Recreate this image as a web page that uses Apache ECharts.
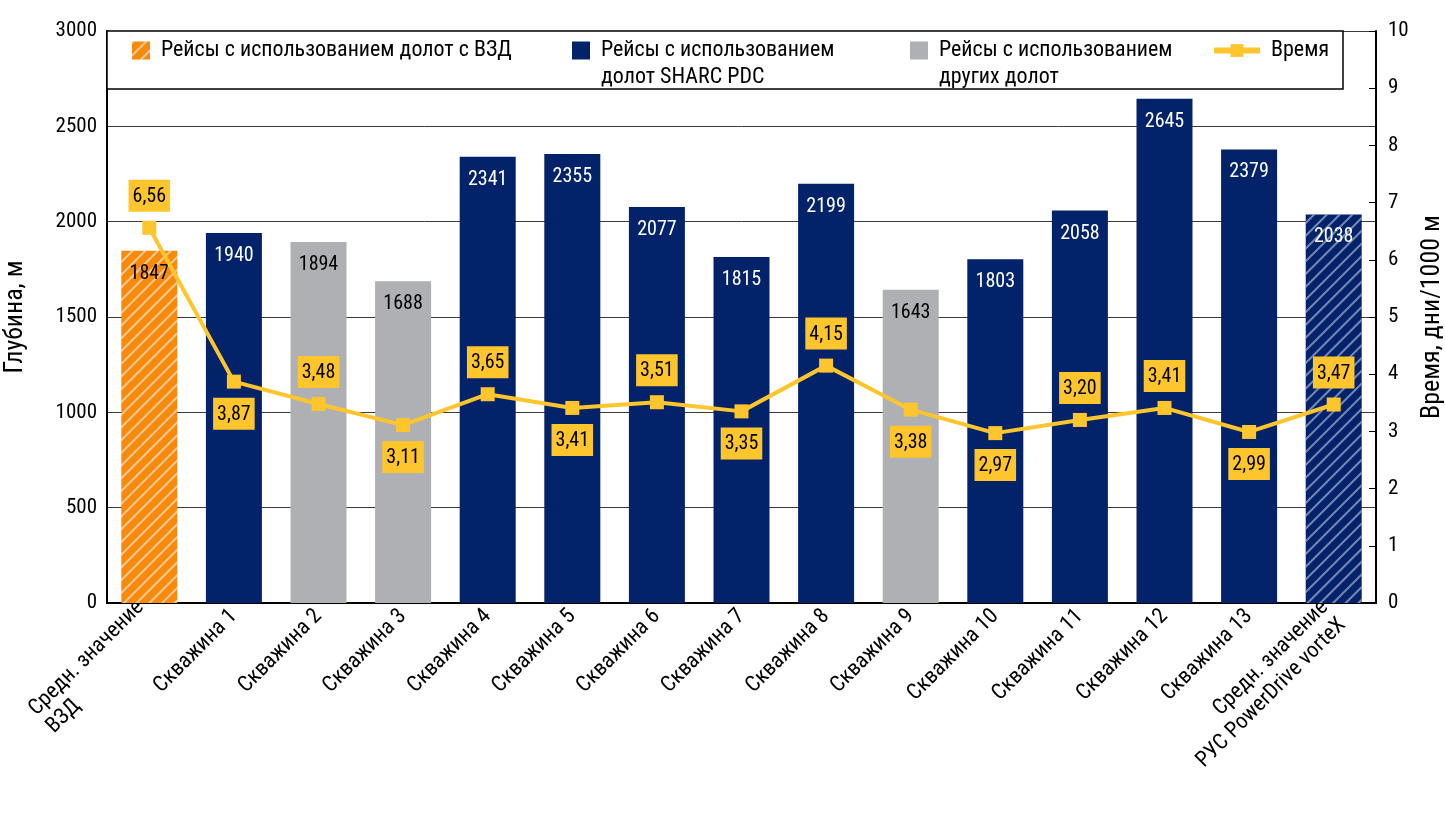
<!DOCTYPE html>
<html>
<head>
<meta charset="utf-8">
<script src="https://cdn.jsdelivr.net/npm/echarts@6/dist/echarts.min.js"></script>
<style>
  html, body { margin: 0; padding: 0; background: #fff; }
  #chart { width: 1445px; height: 813px; }
</style>
</head>
<body>
<div id="chart"></div>
<script>
// data
const categories = ['Средн. значение\nВЗД', 'Скважина 1', 'Скважина 2', 'Скважина 3', 'Скважина 4',
  'Скважина 5', 'Скважина 6', 'Скважина 7', 'Скважина 8', 'Скважина 9', 'Скважина 10',
  'Скважина 11', 'Скважина 12', 'Скважина 13', 'Средн. значение\nРУС PowerDrive vorteX'];
const depth = [1847, 1940, 1894, 1688, 2341, 2355, 2077, 1815, 2199, 1643, 1803, 2058, 2645, 2379, 2038];
// which bit group each bar belongs to
const bitKind = ['vzd', 'sharc', 'other', 'other', 'sharc', 'sharc', 'sharc', 'sharc', 'sharc',
  'other', 'sharc', 'sharc', 'sharc', 'sharc', 'sharc'];
const timeDays = [6.56, 3.87, 3.48, 3.11, 3.65, 3.41, 3.51, 3.35, 4.15, 3.38, 2.97, 3.20, 3.41, 2.99, 3.47];
// label placement for the time boxes
const timeLabelPos = ['top', 'bottom', 'top', 'bottom', 'top', 'bottom', 'top', 'bottom', 'top',
  'bottom', 'bottom', 'top', 'top', 'bottom', 'top'];

const nameVzd = 'Рейсы с использованием долот с ВЗД';
const nameSharc = 'Рейсы с использованием\nдолот SHARC PDC';
const nameOther = 'Рейсы с использованием\nдругих долот';
const nameTime = 'Время';

const FONT = "'Roboto Condensed', 'Liberation Sans Narrow', 'DejaVu Sans Condensed', Roboto, sans-serif";
const ORANGE = '#F7890C';
const NAVY = '#022369';
const GRAY = '#AEB0B3';
const YELLOW = '#FFC52C';

const hatchLight = {
  symbol: 'rect', dashArrayX: [1, 0], dashArrayY: [1.5, 7],
  rotation: -Math.PI / 4, color: 'rgba(255,255,255,0.55)'
};
const hatchNavy = {
  symbol: 'rect', dashArrayX: [1, 0], dashArrayY: [1.5, 7],
  rotation: -Math.PI / 4, color: 'rgba(170,180,215,0.7)'
};

function barData(kind) {
  return depth.map((v, i) => {
    if (bitKind[i] !== kind) return '-';
    if (i === depth.length - 1) return { value: v, itemStyle: { decal: hatchNavy } };
    return v;
  });
}

const chart = echarts.init(document.getElementById('chart'));

// one legend per item so each sits where it does in the picture;
// two-line names get an empty first line so the icon lines up with the first text line
function legendAt(name, left, twoLines, extra) {
  return Object.assign({
    data: [name],
    left: left,
    top: twoLines ? 5 : 32,
    icon: 'rect',
    itemWidth: 18,
    itemHeight: 18,
    itemGap: 0,
    selectedMode: false,
    z: 5,
    formatter: n => (twoLines ? '\n' + n : n),
    textStyle: {
      fontFamily: FONT, fontSize: 22, color: '#000', lineHeight: 27,
      padding: [0, 0, 0, 6]
    }
  }, extra || {});
}

chart.setOption({
  aria: { enabled: false, decal: { show: false } },
  textStyle: { fontFamily: FONT },
  animation: false,
  grid: { left: 107, right: 69, top: 31, bottom: 210, outerBoundsMode: 'none' },
  graphic: [{
    type: 'rect', silent: true, z: 1,
    shape: { x: 107, y: 31, width: 1236, height: 58 },
    style: { fill: '#fff', stroke: '#000', lineWidth: 1.5 }
  }],
  legend: [
    legendAt(nameVzd, 127, false),
    legendAt(nameSharc, 567, true),
    legendAt(nameOther, 905, true),
    legendAt(nameTime, 1206, false, {
      icon: undefined, itemWidth: 46, itemHeight: 16,
      lineStyle: { width: 6 }
    })
  ],
  xAxis: {
    type: 'category',
    data: categories,
    axisLine: { lineStyle: { color: '#000', width: 2 } },
    axisTick: { show: false },
    axisLabel: {
      interval: 0, rotate: 45, margin: 10,
      fontFamily: FONT, fontSize: 22, color: '#000', lineHeight: 25,
      // the first label has its second line flush left, as in the picture
      formatter: (value, index) => {
        if (index !== 0) return value;
        const parts = value.split('\n');
        return '{a|' + parts[0] + '}\n{b|' + parts[1] + '}';
      },
      rich: {
        a: { fontFamily: FONT, fontSize: 22, color: '#000', lineHeight: 25 },
        b: { fontFamily: FONT, fontSize: 22, color: '#000', lineHeight: 25, width: 141, align: 'left' }
      }
    }
  },
  yAxis: [{
    type: 'value', min: 0, max: 3000, interval: 500,
    name: 'Глубина, м', nameLocation: 'middle', nameRotate: 90, nameGap: 79,
    nameTextStyle: { fontFamily: FONT, fontSize: 26, color: '#000' },
    axisLine: { show: true, lineStyle: { color: '#000', width: 2 } },
    axisTick: { show: false },
    axisLabel: { fontFamily: FONT, fontSize: 21, color: '#000', margin: 10, formatter: v => String(v) },
    splitLine: { show: true, lineStyle: { color: '#3a3a3a', width: 1 } }
  }, {
    type: 'value', min: 0, max: 10, interval: 1, position: 'right',
    name: 'Время, дни/1000 м', nameLocation: 'middle', nameRotate: 90, nameGap: 43,
    nameTextStyle: { fontFamily: FONT, fontSize: 26, color: '#000' },
    axisLine: { show: true, lineStyle: { color: '#000', width: 2 } },
    axisTick: { show: true, inside: true, length: 7, lineStyle: { color: '#000', width: 1 } },
    axisLabel: { fontFamily: FONT, fontSize: 21, color: '#000', margin: 12 },
    splitLine: { show: false }
  }],
  series: [{
    name: nameVzd, type: 'bar', barWidth: 56, barGap: '-100%',
    data: barData('vzd'),
    itemStyle: { color: ORANGE, decal: hatchLight },
    label: { show: true, position: 'insideTop', distance: 13, fontSize: 20, color: '#000', fontFamily: FONT }
  }, {
    name: nameSharc, type: 'bar', barWidth: 56, barGap: '-100%',
    data: barData('sharc'),
    itemStyle: { color: NAVY },
    label: { show: true, position: 'insideTop', distance: 13, fontSize: 20, color: '#fff', fontFamily: FONT }
  }, {
    name: nameOther, type: 'bar', barWidth: 56, barGap: '-100%',
    data: barData('other'),
    itemStyle: { color: GRAY },
    label: { show: true, position: 'insideTop', distance: 13, fontSize: 20, color: '#000', fontFamily: FONT }
  }, {
    name: nameTime, type: 'line', yAxisIndex: 1, z: 4,
    data: timeDays.map((v, i) => ({ value: v, label: { position: timeLabelPos[i] } })),
    symbol: 'rect', symbolSize: 14,
    lineStyle: { color: YELLOW, width: 4 },
    itemStyle: { color: YELLOW },
    label: {
      show: true, distance: 9,
      formatter: p => p.value.toFixed(2).replace('.', ','),
      backgroundColor: YELLOW, padding: [7, 4, 5, 4],
      fontFamily: FONT, fontSize: 20, color: '#000'
    }
  }]
});
</script>
</body>
</html>
